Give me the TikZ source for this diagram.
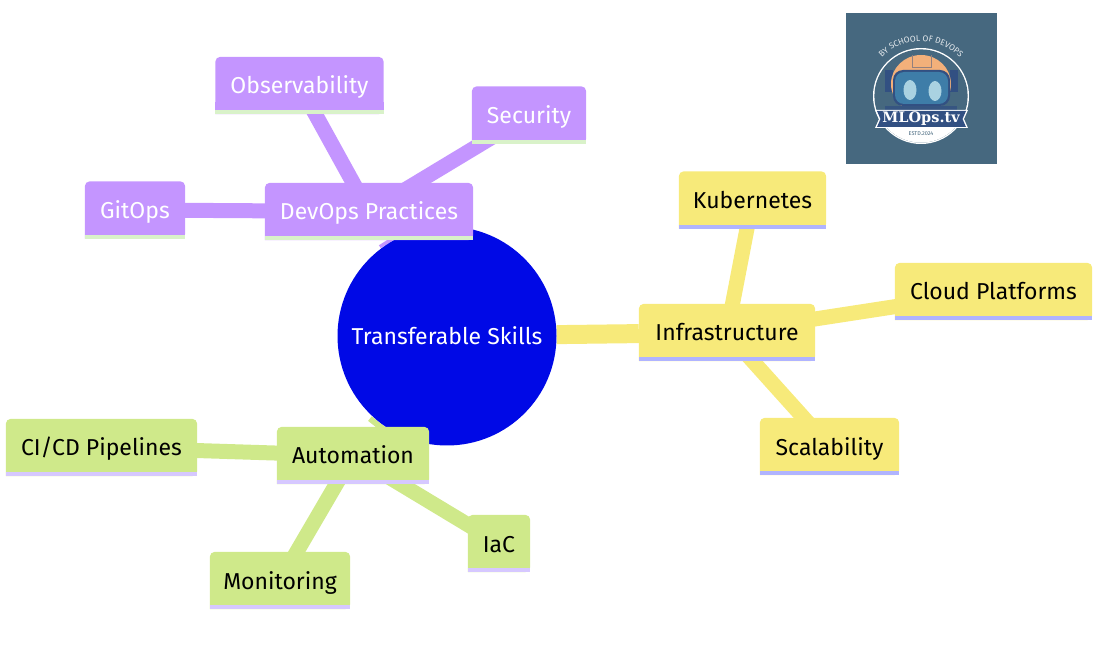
\documentclass[tikz,border=0pt]{standalone}
\usepackage{fontspec}
\setmainfont{Fira Sans}
\newfontfamily\logofont{DejaVu Serif}
\usetikzlibrary{backgrounds,calc,decorations.text}
\definecolor{RootBlue}{RGB}{0, 9, 230}
\definecolor{DevPurple}{RGB}{196, 149, 255}
\definecolor{DevEdge}{RGB}{217, 242, 201}
\definecolor{InfraYellow}{RGB}{247, 234, 122}
\definecolor{InfraEdge}{RGB}{176, 180, 255}
\definecolor{AutoGreen}{RGB}{207, 233, 138}
\definecolor{AutoEdge}{RGB}{214, 200, 255}
\definecolor{LogoBg}{RGB}{70, 104, 127}
\definecolor{LogoOrange}{RGB}{243, 176, 122}
\definecolor{LogoNavy}{RGB}{50, 80, 130}
\definecolor{LogoVisor}{RGB}{62, 125, 168}
\definecolor{LogoEye}{RGB}{170, 210, 225}

\begin{document}
\begin{tikzpicture}[
  x=1pt, y=-1pt,
  every node/.style={font=\fontsize{23}{27}\selectfont, inner sep=0pt, text height=19pt, text depth=2pt},
  rootnode/.style={circle, minimum size=219pt, text=white},
  item/.style={rectangle, minimum height=57pt},
  link/.style={line width=15pt},
  mainlink/.style={line width=19pt},
  logotext/.style={text height=, text depth=}
]
\useasboundingbox (0,0) rectangle (1104,660);

% root and branches
\node[rootnode] (root) at (447,336) {Transferable Skills};
\node[item, minimum width=208pt, text=white] (dev) at (369,211.5) {DevOps Practices};
\node[item, minimum width=168pt, text=white] (obs) at (299.5,85.5) {Observability};
\node[item, minimum width=114pt, text=white] (sec) at (529,115) {Security};
\node[item, minimum width=100pt, text=white] (git) at (135,210) {GitOps};
\node[item, minimum width=176pt] (infra) at (727,332.5) {Infrastructure};
\node[item, minimum width=147pt] (kube) at (752.5,200) {Kubernetes};
\node[item, minimum width=197pt] (cloud) at (993.5,291.5) {Cloud Platforms};
\node[item, minimum width=139pt] (scale) at (829.5,446.5) {Scalability};
\node[item, minimum width=152pt] (auto) at (353,455.5) {Automation};
\node[item, minimum width=191pt] (cicd) at (101.5,447.5) {CI/CD Pipelines};
\node[item, minimum width=62pt] (iac) at (499,543.5) {IaC};
\node[item, minimum width=140pt] (mon) at (280,580.5) {Monitoring};

\begin{scope}[on background layer]
\draw[mainlink, DevPurple] (root) -- (dev);
\draw[mainlink, InfraYellow] (root) -- (infra);
\draw[mainlink, AutoGreen] (root) -- (auto);
\foreach \a/\b/\col in {dev/obs/DevPurple, dev/sec/DevPurple, dev/git/DevPurple,
    infra/kube/InfraYellow, infra/cloud/InfraYellow, infra/scale/InfraYellow,
    auto/cicd/AutoGreen, auto/iac/AutoGreen, auto/mon/AutoGreen}
  \draw[link, \col] (\a.center) -- (\b.center);
\fill[RootBlue] (root.center) circle (109.5);
\foreach \n/\col/\edge in {dev/DevPurple/DevEdge, obs/DevPurple/DevEdge, sec/DevPurple/DevEdge, git/DevPurple/DevEdge,
    infra/InfraYellow/InfraEdge, kube/InfraYellow/InfraEdge, cloud/InfraYellow/InfraEdge, scale/InfraYellow/InfraEdge,
    auto/AutoGreen/AutoEdge, cicd/AutoGreen/AutoEdge, iac/AutoGreen/AutoEdge, mon/AutoGreen/AutoEdge} {
  \fill[\col, rounded corners=5pt] (\n.south west) -- (\n.north west) -- (\n.north east) -- (\n.south east) [sharp corners] -- cycle;
  \fill[\col] ($(\n.south west)+(0,-12)$) rectangle (\n.south east);
  \fill[\edge] ($(\n.south west)+(0,-4)$) rectangle (\n.south east);
}
\end{scope}

% logo
\fill[LogoBg] (846,13) rectangle (997,164);
\fill[white] (921,96) circle (48);
\fill[LogoBg] (921,96) circle (46.6);
\begin{scope}
\clip (860,124) rectangle (980,150);
\fill[white] (921,96) circle (46.6);
\end{scope}
\fill[LogoNavy] (885,70) rectangle (893,92);
\fill[LogoNavy] (950,70) rectangle (958,92);
\fill[LogoOrange] (921,84) ellipse (30 and 29);
\draw[LogoNavy!50!LogoOrange, line width=0.7pt] (912,55) -- (912,67) -- (931,67) -- (931,55);
\fill[LogoNavy, rounded corners=10pt] (893,70) rectangle (950,106);
\fill[LogoVisor, rounded corners=9pt] (895,72) rectangle (948,104);
\fill[LogoNavy!80!LogoBg] (885,106) rectangle (957,111);
\fill[LogoEye] (910,90) ellipse (6.5 and 10);
\fill[LogoEye] (935,91) ellipse (6.5 and 10);
\fill[white] (875,110) -- (968,110) -- (964,119) -- (968,128) -- (875,128) -- (879,119) -- cycle;
\fill[LogoNavy] (877,111) -- (966,111) -- (962.5,119) -- (966,127) -- (877,127) -- (880.5,119) -- cycle;
\node[logotext, font=\logofont\bfseries\fontsize{14.5}{15}\selectfont, text=white] (logoname) at (921,118.5) {MLOps.tv};
\node[logotext, font=\fontsize{5.5}{6}\selectfont, text=LogoBg] (logoyear) at (921,133.5) {ESTD.2024};
\path[postaction={decorate, decoration={text along path, text align=center,
  text={|\fontsize{8.4}{8}\selectfont\color{white!85!LogoBg}|BY SCHOOL OF DEVOPS}}}]
  (879.7,60) arc (221:319:54.7);
\end{tikzpicture}
\end{document}
